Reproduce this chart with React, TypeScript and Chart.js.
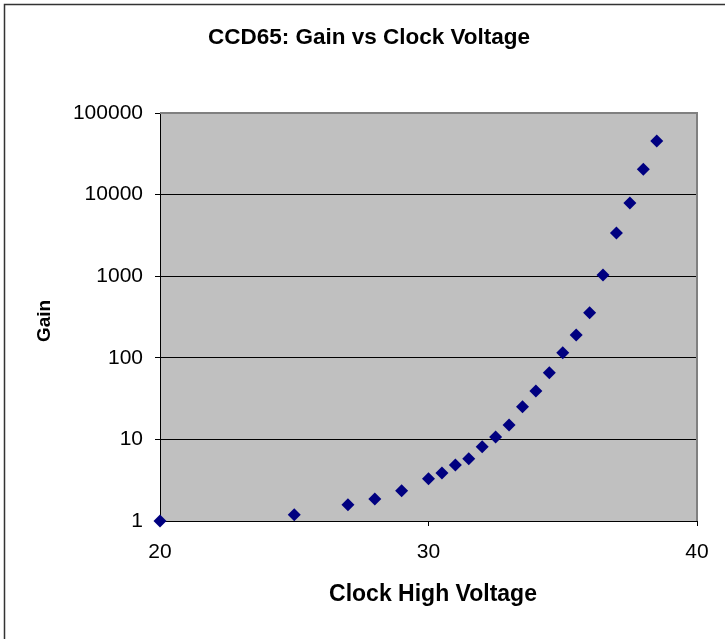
import React, { useEffect, useRef } from "react";
import { Chart, registerables } from "chart.js";

Chart.register(...registerables);

const voltages = [20, 25, 27, 28, 29, 30, 30.5, 31, 31.5, 32, 32.5, 33, 33.5, 34, 34.5, 35, 35.5, 36, 36.5, 37, 37.5, 38, 38.5];
const gains = [1, 1.19, 1.58, 1.86, 2.35, 3.3, 3.87, 4.86, 5.8, 8.14, 10.7, 15.0, 25.2, 39.2, 65.7, 115.5, 190, 357, 1035, 3383, 7890, 20400, 45400];
const yTicks = [1, 10, 100, 1000, 10000, 100000];
const xTicks = [20, 30, 40];
const chartTitle = "CCD65: Gain vs Clock Voltage";
const xTitle = "Clock High Voltage";
const yTitle = "Gain";

const FONT = "'Liberation Sans', Arial, sans-serif";

const decorPlugin = {
  id: "decor",
  beforeDraw(chart: any) {
    const { ctx, chartArea: a, width, height } = chart;
    ctx.save();
    ctx.fillStyle = "#ffffff";
    ctx.fillRect(0, 0, width, height);
    ctx.fillStyle = "#c0c0c0";
    ctx.fillRect(a.left, a.top, a.right - a.left, a.bottom - a.top);
    ctx.restore();
  },
  beforeDatasetsDraw(chart: any) {
    const { ctx, chartArea: a } = chart;
    ctx.save();
    ctx.strokeStyle = "#808080";
    ctx.lineWidth = 2;
    ctx.beginPath();
    ctx.moveTo(a.left, a.top);
    ctx.lineTo(a.right, a.top);
    ctx.lineTo(a.right, a.bottom);
    ctx.stroke();
    ctx.restore();
  },
  afterDraw(chart: any) {
    const { ctx, width, height } = chart;
    ctx.save();
    // outer frame (left & top visible)
    ctx.strokeStyle = "#333333";
    ctx.lineWidth = 1.5;
    ctx.beginPath();
    ctx.moveTo(4.5, height + 2);
    ctx.lineTo(4.5, 4.5);
    ctx.lineTo(width + 2, 4.5);
    ctx.stroke();

    ctx.fillStyle = "#000000";
    ctx.textAlign = "center";
    ctx.textBaseline = "middle";
    ctx.font = `bold 22.5px ${FONT}`;
    ctx.fillText(chartTitle, 369, 38);
    ctx.font = `bold 23px ${FONT}`;
    ctx.fillText(xTitle, 433, 595);
    ctx.translate(45, 321);
    ctx.rotate(-Math.PI / 2);
    ctx.font = `bold 19px ${FONT}`;
    ctx.fillText(yTitle, 0, 0);
    ctx.restore();
  },
};

export default function App() {
  const ref = useRef<HTMLCanvasElement>(null);
  useEffect(() => {
    if (!ref.current) return;
    const chart = new Chart(ref.current, {
      type: "scatter",
      data: {
        datasets: [
          {
            data: voltages.map((v, i) => ({ x: v, y: gains[i] })),
            pointStyle: "rectRot",
            pointRadius: 6.5,
            pointHoverRadius: 6.5,
            backgroundColor: "#000080",
            borderColor: "#000080",
            borderWidth: 0,
            clip: false,
          } as any,
        ],
      },
      options: {
        responsive: false,
        animation: false,
        devicePixelRatio: 1,
        layout: { padding: { left: 0, right: 28, top: 113, bottom: 0 } },
        plugins: {
          legend: { display: false },
          title: { display: false },
          tooltip: { enabled: false },
        },
        scales: {
          x: {
            type: "linear",
            min: 20,
            max: 40,
            afterBuildTicks: (s: any) => {
              s.ticks = xTicks.map((v) => ({ value: v }));
            },
            afterFit: (s: any) => {
              s.height = 118;
            },
            grid: { drawOnChartArea: false, drawTicks: true, tickLength: 5, color: "#000000", lineWidth: 1 },
            border: { color: "#000000", width: 1 },
            ticks: {
              color: "#000000",
              font: { family: FONT, size: 21 },
              padding: 14,
              maxRotation: 0,
              autoSkip: false,
              callback: (v: any) => String(v),
            },
          },
          y: {
            type: "logarithmic",
            min: 1,
            max: 100000,
            afterBuildTicks: (s: any) => {
              s.ticks = yTicks.map((v) => ({ value: v }));
            },
            afterFit: (s: any) => {
              s.width = 160;
            },
            grid: { color: "#000000", tickLength: 5, lineWidth: 1 },
            border: { color: "#000000", width: 1 },
            ticks: {
              color: "#000000",
              font: { family: FONT, size: 21 },
              padding: 12,
              autoSkip: false,
              callback: (v: any) => String(v),
            },
          },
        },
      },
      plugins: [decorPlugin],
    });
    return () => chart.destroy();
  }, []);
  return (
    <canvas
      ref={ref}
      width={725}
      height={639}
      style={{ position: "absolute", left: 0, top: 0, display: "block", width: 725, height: 639 }}
    />
  );
}
